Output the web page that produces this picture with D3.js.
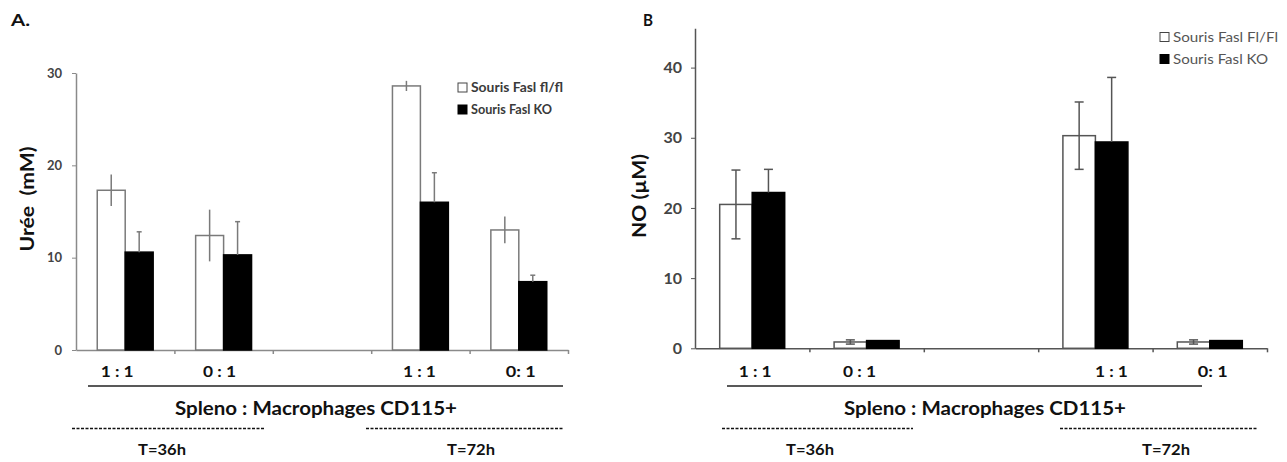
<!DOCTYPE html>
<html><head><meta charset="utf-8">
<script src="https://cdn.jsdelivr.net/npm/d3@7"></script>
<style>body{margin:0;background:#fff}svg{display:block}text{font-family:Lato,"Open Sans",sans-serif}</style>
</head><body><svg id="c" width="1287" height="462"></svg>
<script>
// ---------- data ----------
const categories = ["1 : 1", "0 : 1", "", "1 : 1", "0: 1"];
const timeGroups = ["T=36h", "T=72h"];
const seriesA = ["Souris Fasl fl/fl", "Souris Fasl KO"];
const seriesB = ["Souris Fasl Fl/Fl", "Souris Fasl KO"];
const ureeFlfl    = [17.3, 12.4, null, 28.6, 13.0];
const ureeFlflErr = [1.7, 2.8, null, 0.55, 1.45];
const ureeKO      = [10.6, 10.3, null, 16.0, 7.4];
const ureeKOErr   = [2.2, 3.6, null, 3.2, 0.7];
const noFlfl      = [20.5, 0.9, null, 30.3, 0.9];
const noFlflErr   = [4.9, 0.3, null, 4.8, 0.3];
const noKO        = [22.2, 1.1, null, 29.4, 1.1];
const noKOErr     = [3.3, 0, null, 9.2, 0];
const ticksA = [0, 10, 20, 30];
const ticksB = [0, 10, 20, 30, 40];
const groupTitle = "Spleno : Macrophages CD115+";

const svg = d3.select("#c");
function fit(sel, w) { if (w) sel.attr("textLength", w).attr("lengthAdjust", "spacingAndGlyphs"); return sel; }

function panel(cfg) {
  const g = svg.append("g");
  const idx = categories.map((d, i) => i);
  const x = d3.scaleBand().domain(idx).range([cfg.x0, cfg.x1]).padding(0);
  const xs = d3.scaleBand().domain([0, 1]).range([0, x.bandwidth()]).paddingInner(0).paddingOuter(0.76);
  const y = d3.scaleLinear().domain(cfg.domain).range([cfg.y0, cfg.y1]);

  // y axis
  const ya = g.append("g").attr("transform", `translate(${cfg.x0},0)`)
    .call(d3.axisLeft(y).tickValues(cfg.ticks).tickSize(cfg.tickLen).tickSizeOuter(0).tickPadding(cfg.tickPad));
  ya.select(".domain").attr("stroke", cfg.axisColor).attr("stroke-width", 1.5);
  ya.selectAll(".tick line").attr("stroke", cfg.axisColor);
  ya.selectAll(".tick text").attr("fill", cfg.tickColor).style("font-size", cfg.tickFont + "px")
    .style("font-weight", cfg.tickWeight).style("font-family", "Lato");

  // x axis with tick marks at band boundaries
  const xb = d3.scaleLinear().domain([0, categories.length]).range([cfg.x0, cfg.x1]);
  const xa = g.append("g").attr("transform", `translate(0,${cfg.y0})`)
    .call(d3.axisBottom(xb).tickValues(d3.range(1, categories.length + 1)).tickSize(4).tickSizeOuter(0).tickFormat(""));
  xa.select(".domain").attr("stroke", cfg.axisColor).attr("stroke-width", 1.5);
  xa.selectAll(".tick line").attr("stroke", cfg.axisColor).attr("stroke-width", 1.5);

  // bars
  const series = [cfg.white, cfg.black];
  const errs = [cfg.whiteErr, cfg.blackErr];
  series.forEach((vals, s) => {
    vals.forEach((v, i) => {
      if (v == null) return;
      const bx = x(i) + xs(s), bw = xs.bandwidth();
      g.append("rect").attr("x", bx).attr("y", y(v)).attr("width", bw).attr("height", y(0) - y(v))
        .attr("fill", s === 0 ? "#fff" : "#000")
        .attr("stroke", s === 0 ? cfg.barStroke : "#000").attr("stroke-width", 1.5);
    });
  });
  // error bars
  series.forEach((vals, s) => {
    vals.forEach((v, i) => {
      const e = errs[s][i];
      if (v == null || !e) return;
      const cx = x(i) + xs(s) + xs.bandwidth() / 2;
      const lo = s === 0 ? v - e : v;
      g.append("line").attr("x1", cx).attr("x2", cx).attr("y1", y(v + e)).attr("y2", y(lo))
        .attr("stroke", cfg.errColor).attr("stroke-width", 1.5);
      const cw = s === 0 ? cfg.capW0 : cfg.capW1;
      if (cw > 0) {
        g.append("line").attr("x1", cx - cw / 2).attr("x2", cx + cw / 2).attr("y1", y(v + e)).attr("y2", y(v + e))
          .attr("stroke", cfg.errColor).attr("stroke-width", 1.5);
        if (s === 0) g.append("line").attr("x1", cx - cw / 2).attr("x2", cx + cw / 2).attr("y1", y(v - e)).attr("y2", y(v - e))
          .attr("stroke", cfg.errColor).attr("stroke-width", 1.5);
      }
    });
  });

  // category labels
  categories.forEach((c, i) => {
    if (!c) return;
    fit(g.append("text").attr("x", x(i) + x.bandwidth() / 2 + cfg.labOff[i]).attr("y", cfg.labY)
      .attr("text-anchor", "middle").attr("font-weight", "bold").attr("font-size", 14.5).attr("fill", "#111").text(c),
      c.length === 5 ? 33 : 30);
  });
  // underline
  g.append("line").attr("x1", cfg.lineX[0]).attr("x2", cfg.lineX[1]).attr("y1", 386).attr("y2", 386)
    .attr("stroke", "#222").attr("stroke-width", 1.3);
  fit(g.append("text").attr("x", cfg.titleX).attr("y", 415).attr("text-anchor", "middle")
    .attr("font-weight", "bold").attr("font-size", 18.5).attr("fill", "#111").text(groupTitle), 282);
  // dashed group lines + time labels
  cfg.dash.forEach((d, k) => {
    g.append("line").attr("x1", d[0]).attr("x2", d[1]).attr("y1", 428.5).attr("y2", 428.5)
      .attr("stroke", "#111").attr("stroke-width", 1.3).attr("stroke-dasharray", "3,1.5");
    fit(g.append("text").attr("x", cfg.timeX[k]).attr("y", 455).attr("text-anchor", "middle")
      .attr("font-weight", "bold").attr("font-size", 14.5).attr("fill", "#111").text(timeGroups[k]), 48);
  });

  // y label
  fit(g.append("text").attr("transform", `translate(${cfg.yLab[0]},${cfg.yLab[1]}) rotate(-90)`)
    .attr("text-anchor", "middle").attr("font-weight", "bold").attr("font-size", 18).attr("fill", "#111")
    .attr("dy", "0.35em").style("white-space", "pre").text(cfg.yTitle), cfg.yLabW);
  // panel letter
  fit(g.append("text").attr("x", cfg.letter[0]).attr("y", 26).attr("font-weight", "bold").attr("font-size", 17)
    .attr("fill", "#111").text(cfg.letterText), cfg.letter[1]);

  // legend
  cfg.legNames.forEach((n, k) => {
    const ly = cfg.leg[1] + k * cfg.legGap;
    g.append("rect").attr("x", cfg.leg[0]).attr("y", ly - cfg.legSq / 2).attr("width", cfg.legSq).attr("height", cfg.legSq)
      .attr("fill", k === 0 ? "#fff" : "#000").attr("stroke", k === 0 ? "#444" : "#000").attr("stroke-width", 1);
    fit(g.append("text").attr("x", cfg.leg[0] + cfg.legSq + 4).attr("y", ly).attr("dy", "0.35em")
      .attr("font-size", cfg.legFont).attr("font-weight", cfg.legWeight).attr("fill", cfg.legColor).text(n), cfg.legW[k]);
  });
}

panel({
  x0: 76, x1: 568, y0: 350, y1: 73, domain: [0, 30], ticks: ticksA, tickLen: 4, tickPad: 10,
  axisColor: "#8a8a8a", tickColor: "#444", tickFont: 13, tickWeight: "bold", barStroke: "#7a7a7a",
  white: ureeFlfl, whiteErr: ureeFlflErr, black: ureeKO, blackErr: ureeKOErr,
  errColor: "#7a7a7a", capW0: 0, capW1: 5,
  labOff: [-8, -4, 0, -1, 2], labY: 377, lineX: [88, 563], titleX: 316,
  dash: [[72, 265], [366, 563]], timeX: [162, 471],
  yLab: [28, 199], yLabW: 105, yTitle: "Urée  (mM)", letter: [11, 19], letterText: "A.",
  legNames: seriesA, legW: [92, 81], leg: [458, 87.5], legGap: 22, legSq: 9, legFont: 13, legWeight: "bold", legColor: "#3a3a3a"
});
panel({
  x0: 695, x1: 1267, y0: 348.3, y1: 28.3, domain: [0, 45.6], ticks: ticksB, tickLen: 4, tickPad: 9,
  axisColor: "#555", tickColor: "#444", tickFont: 16, tickWeight: "bold", barStroke: "#555",
  white: noFlfl, whiteErr: noFlflErr, black: noKO, blackErr: noKOErr,
  errColor: "#555", capW0: 9, capW1: 9,
  labOff: [3, -7, 0, 16, 3], labY: 377, lineX: [727, 1202], titleX: 985,
  dash: [[722, 913], [1060, 1257]], timeX: [810, 1166],
  yLab: [640, 196], yLabW: 84, yTitle: "NO (µM)", letter: [643, 10], letterText: "B",
  legNames: seriesB, legW: [105, 95], leg: [1160, 37], legGap: 22, legSq: 9, legFont: 13, legWeight: "normal", legColor: "#555"
});
</script></body></html>
